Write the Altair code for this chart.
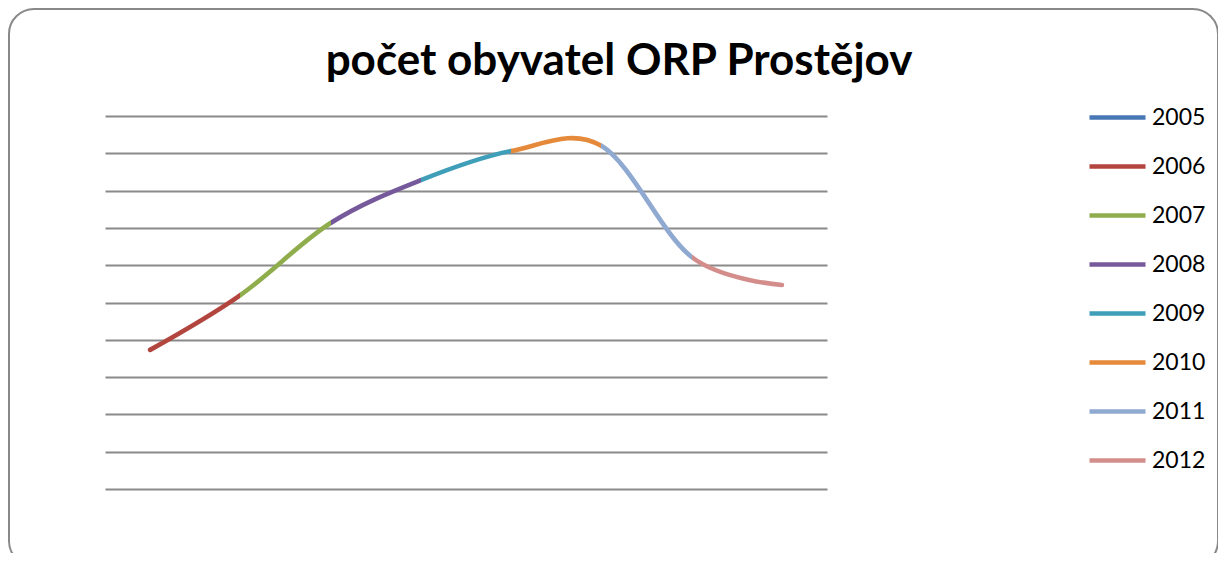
import altair as alt
import pandas as pd

years = [2005, 2006, 2007, 2008, 2009, 2010, 2011, 2012]
population = [108973, 109120, 109313, 109428, 109506, 109520, 109222, 109147]
colors = ["#4777B4", "#B3453F", "#8FAD4C", "#76599A", "#3F9EB8", "#E5893A", "#8FA9D1", "#D38E8C"]
grid_values = [108600, 108700, 108800, 108900, 109000, 109100, 109200, 109300, 109400, 109500, 109600]
title_text = "počet obyvatel ORP Prostějov"

df = pd.DataFrame({"year": years, "population": population, "label": [str(y) for y in years]})

x_enc = alt.X("year:O", scale=alt.Scale(type="point", padding=0.5), axis=None)
y_enc = alt.Y(
    "population:Q",
    scale=alt.Scale(domain=[grid_values[0], grid_values[-1]], nice=False, zero=False),
    axis=alt.Axis(values=grid_values, grid=True, gridColor="#8A8A8A", gridWidth=1.8,
                  domain=False, ticks=False, labels=False, title=None),
)

# colour stops: segment k (point k -> k+1) takes the colour of year k+1
n_seg = len(years) - 1
stops = []
for k in range(n_seg):
    stops.append(alt.GradientStop(offset=k / n_seg, color=colors[k + 1]))
    stops.append(alt.GradientStop(offset=(k + 1) / n_seg, color=colors[k + 1]))
gradient = alt.LinearGradient(gradient="linear", stops=stops, x1=0, x2=1, y1=0, y2=0)

base = alt.Chart(df)

frame = alt.Chart(pd.DataFrame({"a": [0]})).mark_rect(
    cornerRadius=25, fill="transparent", stroke="#898989", strokeWidth=2
).encode(x=alt.value(-96), x2=alt.value(1113), y=alt.value(-107), y2=alt.value(450))

legend_layer = base.mark_line(strokeWidth=4, strokeCap="round").encode(
    x=x_enc,
    y=y_enc,
    color=alt.Color(
        "label:N",
        scale=alt.Scale(domain=[str(y) for y in years], range=colors),
        legend=alt.Legend(
            title=None, orient="none", legendX=982, legendY=-29,
            symbolType="stroke", symbolSize=3136, symbolStrokeWidth=4.5,
            labelFont="Lato", labelFontSize=23, labelColor="#000000",
            labelOffset=4, rowPadding=6, direction="vertical",
        ),
    ),
)

main_line = base.mark_line(
    interpolate="cardinal", strokeWidth=4.6, strokeCap="round", stroke=gradient
).encode(x=x_enc, y=y_enc)

chart = alt.layer(frame, legend_layer, main_line).properties(
    width=722,
    height=373,
    padding={"left": 97, "top": 108, "right": 391, "bottom": 64},
    autosize=alt.AutoSizeParams(type="none"),
    title=alt.TitleParams(
        text=title_text, font="Lato", fontSize=44, fontWeight="bold", color="#000000",
        anchor="middle", frame="group", dx=153, offset=-111, baseline="alphabetic",
    ),
).configure_view(stroke=None)

chart.save("out.html", embed_options={"renderer": "svg", "actions": False})
